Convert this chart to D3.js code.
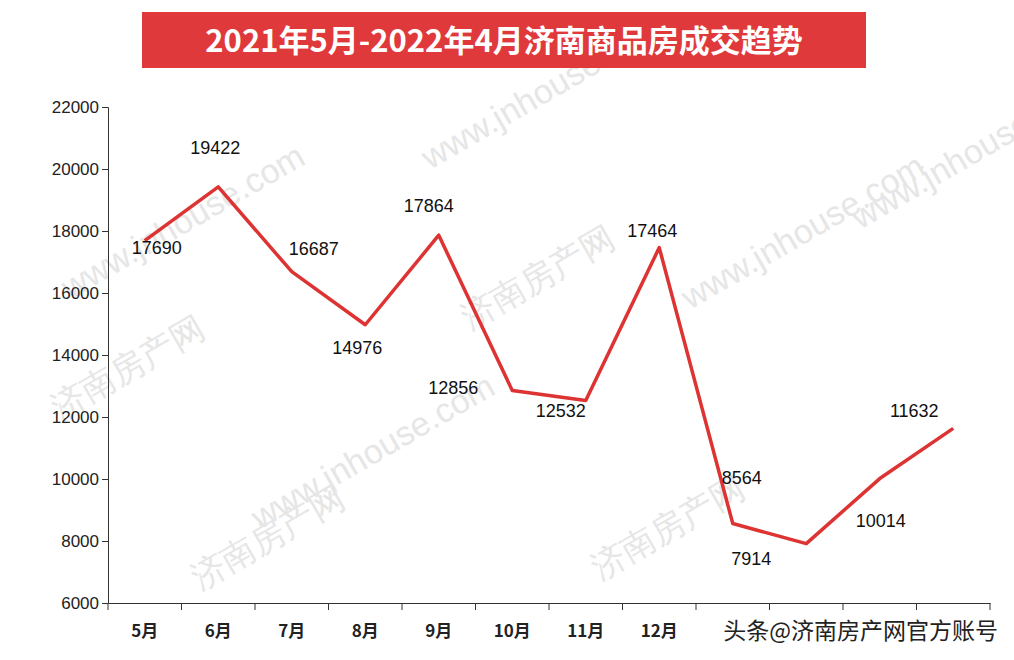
<!DOCTYPE html>
<html><head><meta charset="utf-8">
<script src="https://cdn.jsdelivr.net/npm/d3@7"></script>
<style>body{margin:0;background:#fff}text{font-family:"Liberation Sans",Arial,sans-serif}</style>
</head><body><div class="chart"></div>
<script>
// chart data
var months = ["5月","6月","7月","8月","9月","10月","11月","12月","1月","2月","3月","4月"];
var sales = [17690,19422,16687,14976,17864,12856,12532,17464,8564,7914,10014,11632];
var yTicks = [6000,8000,10000,12000,14000,16000,18000,20000,22000];
// label offsets from each point (layout only)
var labelDx = [12,-3,22,-8,-10,-59,-25,-7,9,-55,1,-39];
var labelDy = [7,-39,-23,23,-29,-2,10,-17,-46,15,42,-17];

var svg = d3.select(".chart").append("svg").attr("width",1014).attr("height",660);

var x = d3.scaleBand().domain(months).range([108,990]);
var y = d3.scaleLinear().domain([6000,22000]).range([603,107]);

// watermarks
var wm = svg.append("g").attr("fill","#e6e6e6").attr("font-size",34);
[[60,420,"济南房产网"],[70,300,"www.jnhouse.com"],[200,590,"济南房产网"],[260,530,"www.jnhouse.com"],
 [470,330,"济南房产网"],[430,170,"www.jnhouse.com"],[600,580,"济南房产网"],[690,310,"www.jnhouse.com"],
 [860,230,"www.jnhouse.com"]]
  .forEach(function(w){
    wm.append("text").attr("transform",`translate(${w[0]},${w[1]}) rotate(-30)`).text(w[2]);
  });

// title
svg.append("rect").attr("x",142).attr("y",12).attr("width",724).attr("height",56).attr("fill","#e0393c");
svg.append("text").attr("x",504).attr("y",52).attr("text-anchor","middle")
  .attr("fill","#fff").attr("font-size",31).attr("font-weight","bold")
  .style("font-family","'Noto Sans CJK SC',sans-serif")
  .text("2021年5月-2022年4月济南商品房成交趋势");

// axes
var yAxis = svg.append("g").attr("transform","translate(108,0)")
  .call(d3.axisLeft(y).tickValues(yTicks).tickSize(6).tickFormat(d3.format("d")));
yAxis.selectAll("text").attr("font-size",17).attr("fill","#222");
var xAxis = svg.append("g").attr("transform","translate(0,603)")
  .call(d3.axisBottom(x).tickSize(0).tickPadding(22));
xAxis.selectAll("text").attr("font-size",17).attr("fill","#222").attr("font-weight","bold")
  .style("font-family","'Noto Sans CJK SC',serif");
xAxis.selectAll(".tk").data(d3.range(months.length+1)).enter().append("line")
  .attr("x1",i=>108+i*x.step()).attr("x2",i=>108+i*x.step()).attr("y1",0).attr("y2",7)
  .attr("stroke","#333");
svg.selectAll(".domain").attr("stroke","#333");
svg.selectAll(".tick line").attr("stroke","#333");

// line
var line = d3.line().x((d,i)=>x(months[i])+x.bandwidth()/2).y(d=>y(d));
svg.append("path").datum(sales).attr("d",line).attr("fill","none")
  .attr("stroke","#dd3333").attr("stroke-width",3.5).attr("stroke-linejoin","round");

// value labels
svg.selectAll(".lbl").data(sales).enter().append("text")
  .attr("x",(d,i)=>x(months[i])+x.bandwidth()/2+labelDx[i])
  .attr("y",(d,i)=>y(d)+labelDy[i]+6)
  .attr("text-anchor","middle").attr("font-size",18).attr("fill","#111")
  .text(d=>d);

// source tag, covering the last month labels as in the original
svg.append("rect").attr("x",680).attr("y",614).attr("width",334).attr("height",40).attr("fill","#fff");
svg.append("text").attr("x",998).attr("y",639).attr("text-anchor","end")
  .attr("font-size",23).attr("fill","#222").style("font-family","'Noto Sans CJK SC',sans-serif")
  .text("头条@济南房产网官方账号");
</script></body></html>
